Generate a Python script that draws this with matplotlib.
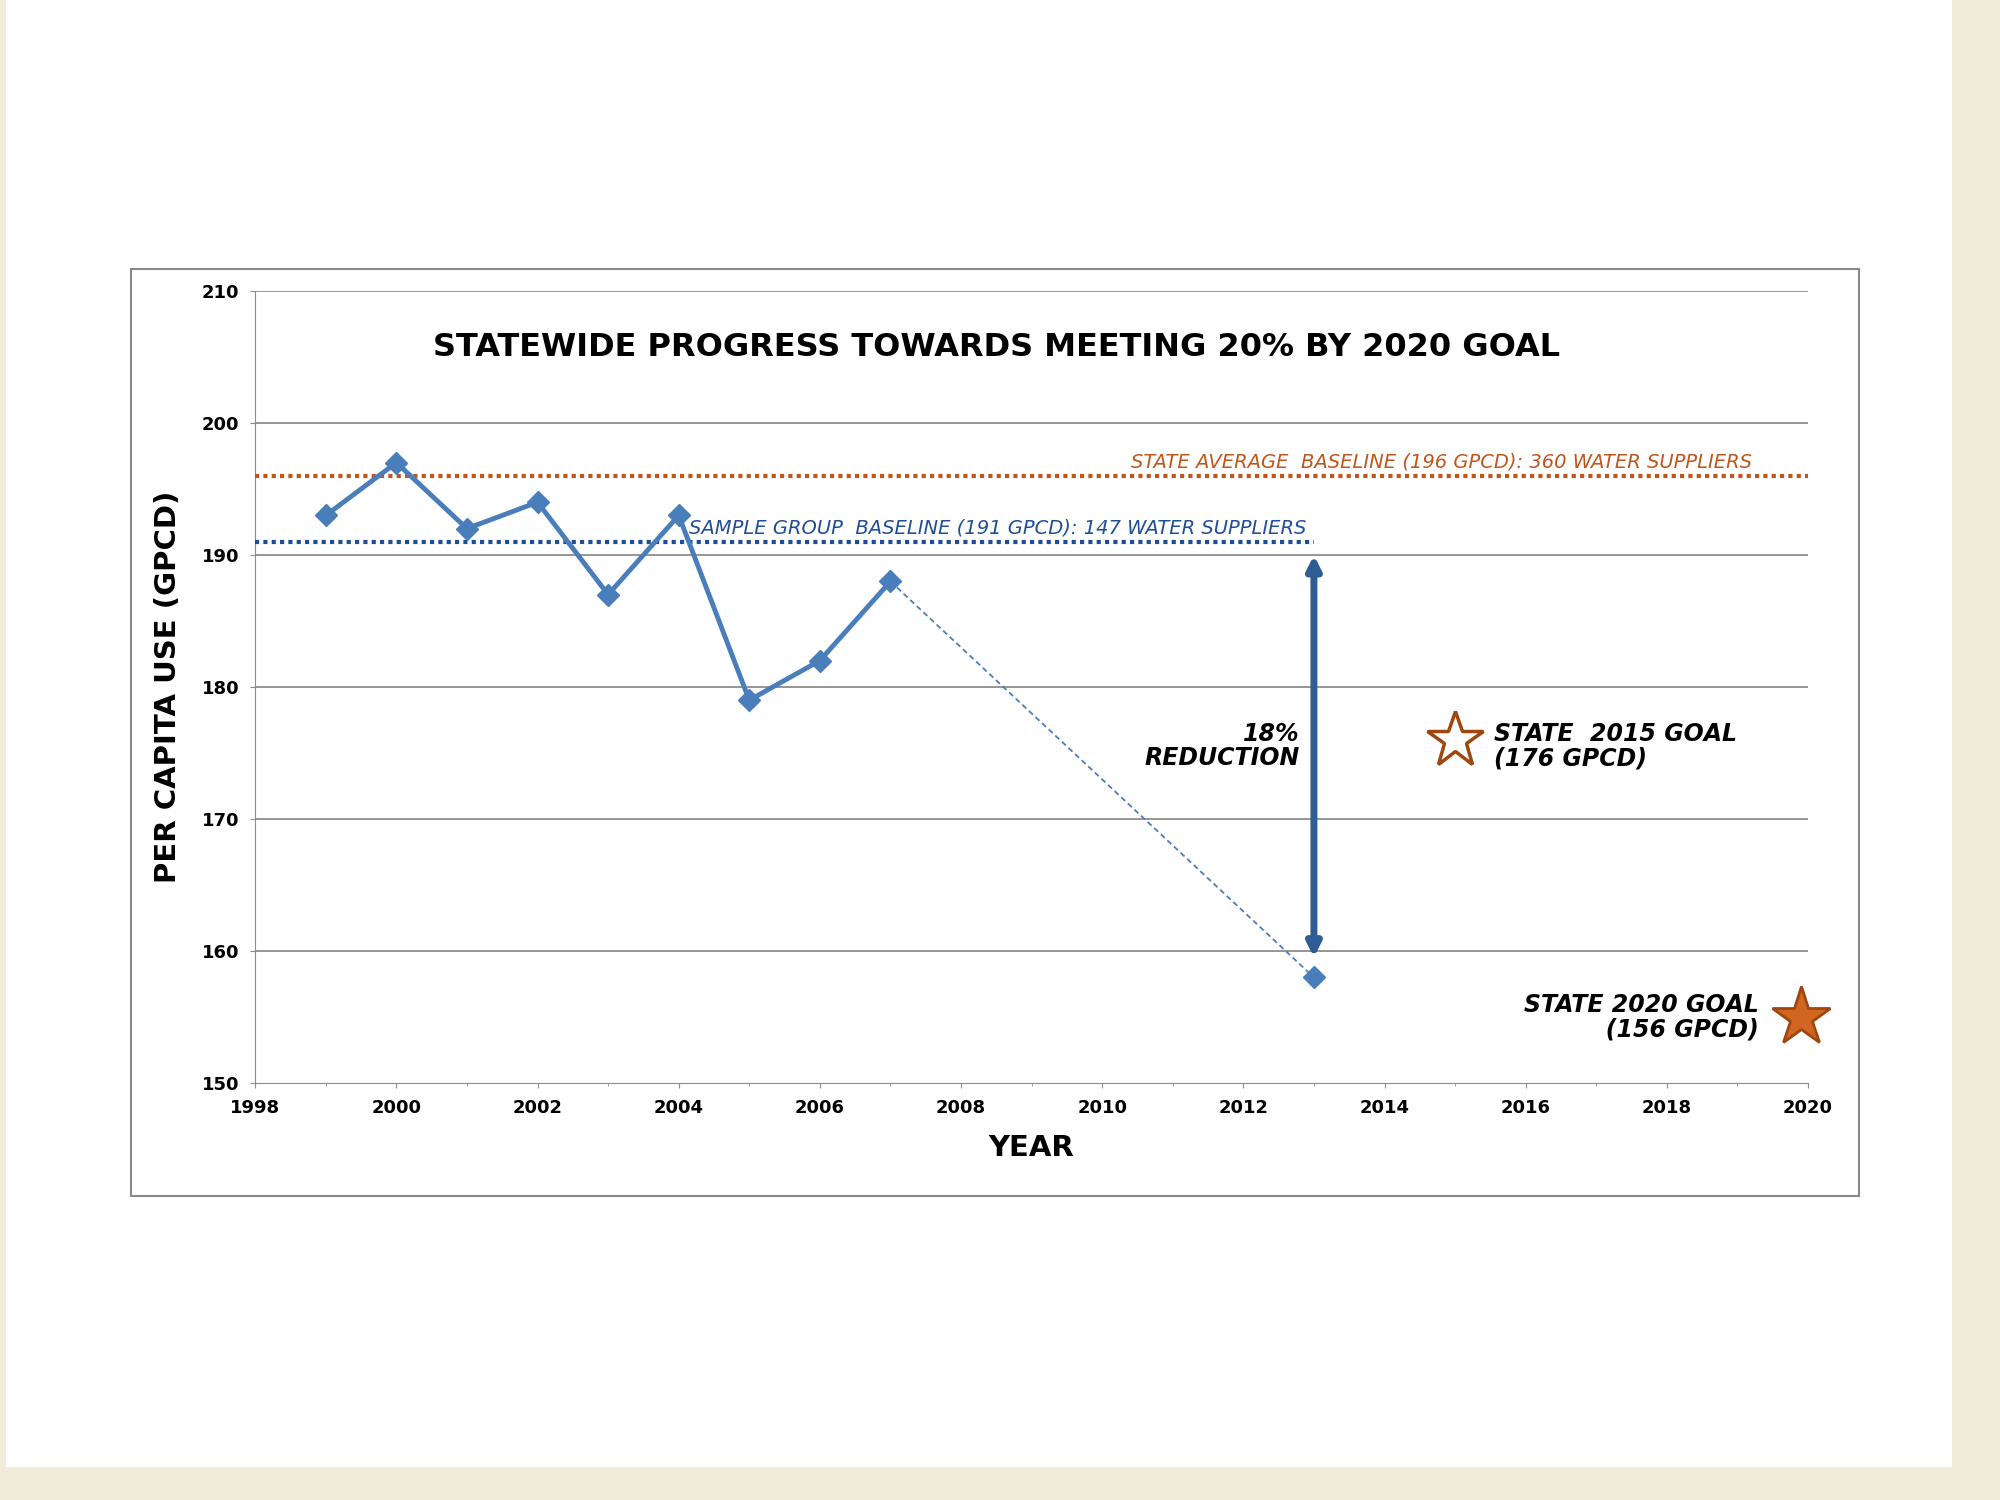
import matplotlib
matplotlib.use("Agg")
import matplotlib.pyplot as plt
from matplotlib.patches import Rectangle

years = [1999, 2000, 2001, 2002, 2003, 2004, 2005, 2006, 2007]
gpcd = [193, 197, 192, 194, 187, 193, 179, 182, 188]
proj_years = [2007, 2013]
proj_vals = [188, 158]
state_baseline = 196
sample_baseline = 191
goal2015 = (2015, 176)
goal2020 = (2019.9, 155)

fig = plt.figure(figsize=(20, 15), dpi=100)
fig.patch.set_facecolor("#efedd9")
fig.patches.append(Rectangle((0.003, 0.022), 0.973, 0.978, transform=fig.transFigure,
                             facecolor="white", edgecolor="none", zorder=0))
fig.patches.append(Rectangle((0.0657, 0.203), 0.864, 0.618, transform=fig.transFigure,
                             facecolor="white", edgecolor="#888888", lw=1.5, zorder=1))
ax = fig.add_axes([0.1276, 0.278, 0.7764, 0.528])
ax.set_zorder(2)
ax.patch.set_alpha(0)
blue = "#4a7ebb"
ax.set_xlim(1998, 2020)
ax.set_ylim(150, 210)
ax.set_xticks(range(1998, 2021, 2))
ax.set_xticks(range(1998, 2021), minor=True)
ax.set_yticks(range(150, 211, 10))
for y in range(160, 211, 10):
    ax.axhline(y, color="#8c8c8c", lw=1.3, zorder=1)
for s in ["top", "right"]:
    ax.spines[s].set_visible(False)
ax.spines["left"].set_color("#8c8c8c")
ax.spines["bottom"].set_color("#8c8c8c")
ax.tick_params(colors="black", labelsize=13, which="both", direction="out", color="#8c8c8c", pad=8)
for l in ax.get_xticklabels() + ax.get_yticklabels():
    l.set_fontweight("bold")

ax.plot(years, gpcd, color=blue, lw=3.5, marker="D", ms=11, zorder=4)
ax.plot(proj_years, proj_vals, color=blue, lw=1.3, ls=(0, (3, 2)), zorder=3)
ax.plot([proj_years[1]], [proj_vals[1]], color=blue, marker="D", ms=11, ls="none", zorder=4)
ax.plot([1998, 2020], [state_baseline] * 2, color="#c0561b", lw=3, ls=(0, (1, 1)), zorder=3)
ax.plot([1998, 2013], [sample_baseline] * 2, color="#1f4e99", lw=3, ls=(0, (1, 1)), zorder=3)
ax.text(2019.2, 196.3, "STATE AVERAGE  BASELINE (196 GPCD): 360 WATER SUPPLIERS",
        color="#c0561b", fontsize=14, style="italic", ha="right", va="bottom")
ax.text(2012.9, 191.3, "SAMPLE GROUP  BASELINE (191 GPCD): 147 WATER SUPPLIERS",
        color="#1f4e99", fontsize=14, style="italic", ha="right", va="bottom")
ax.annotate("", xy=(2013, 159.3), xytext=(2013, 190.2),
            arrowprops=dict(arrowstyle="<|-|>", color="#2e5c94", lw=5, mutation_scale=20), zorder=5)
ax.text(2012.8, 175.5, "18%\nREDUCTION", fontsize=17, fontweight="bold", style="italic",
        ha="right", va="center", linespacing=1.0)
ax.plot(*goal2015, marker="*", ms=42, mfc="white", mec="#a0460f", mew=2.5, ls="none", zorder=5)
ax.text(2015.55, 175.5, "STATE  2015 GOAL\n(176 GPCD)", fontsize=17, fontweight="bold",
        style="italic", ha="left", va="center", linespacing=1.0)
ax.plot(*goal2020, marker="*", ms=44, mfc="#d0661f", mec="#a0460f", mew=2, ls="none",
        zorder=5, clip_on=False)
ax.text(2019.3, 155, "STATE 2020 GOAL\n   (156 GPCD)", fontsize=17, fontweight="bold",
        style="italic", ha="right", va="center", linespacing=1.0)
ax.text(2008.5, 205.7, "STATEWIDE PROGRESS TOWARDS MEETING 20% BY 2020 GOAL",
        fontsize=23, fontweight="bold", ha="center", va="center")
ax.set_xlabel("YEAR", fontsize=21, fontweight="bold", labelpad=12)
ax.set_ylabel("PER CAPITA USE (GPCD)", fontsize=21, fontweight="bold", labelpad=14)
fig.savefig("out.png", dpi=100, facecolor=fig.get_facecolor())
